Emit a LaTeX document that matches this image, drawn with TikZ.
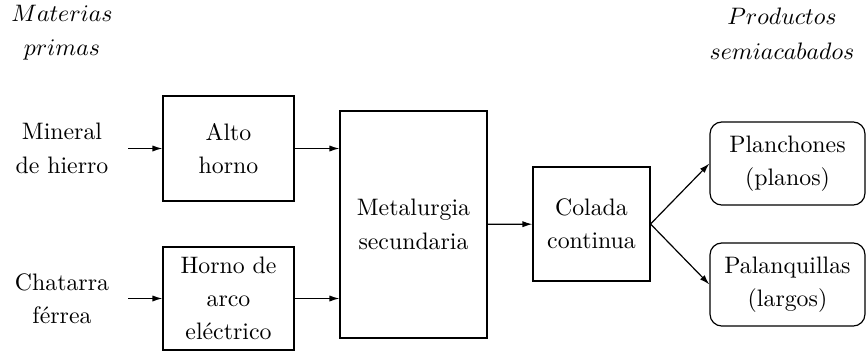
\documentclass[tikz,border=0pt]{standalone}
\usetikzlibrary{arrows.meta}
\begin{document}
\begin{tikzpicture}[x=0.42pt,y=-0.42pt,
  every node/.style={inner sep=0pt,align=center},
  proc/.style={draw,line width=0.5pt},
  prod/.style={draw,line width=0.5pt,rounded corners=5pt},
  source/.style={minimum width=55.4pt},
  flow/.style={line width=0.5pt,-{Latex[length=4.2pt,width=2.6pt]}}]
\useasboundingbox (0,0) rectangle (867,352);

% column headings
\node (mat) at (62,32.5) {$Materias$\\[2.5pt]$primas$};
\node (prodh) at (782,33.5) {$Productos$\\[2.5pt]$semiacabados$};

% raw materials
\node[source] (mineral) at (62,148.5) {Mineral\\[2pt]de hierro};
\node[source] (chatarra) at (62,298.5) {Chatarra\\[2pt]férrea};

% process stages
\node[proc,minimum width=55pt,minimum height=44.1pt] (alto) at (228.5,148.5) {Alto\\[2pt]horno};
\node[proc,minimum width=55pt,minimum height=43.3pt] (arco) at (228.5,298.5) {Horno de\\[2pt]arco\\[2pt]eléctrico};
\node[proc,minimum width=61.7pt,minimum height=95.3pt] (metal) at (413.5,224.5) {Metalurgia\\[2pt]secundaria};
\node[proc,minimum width=49.1pt,minimum height=47.9pt] (colada) at (591.5,224) {Colada\\[2pt]continua};

% semi-finished products
\node[prod,minimum width=65.1pt,minimum height=34.9pt] (plan) at (787.5,163.5) {Planchones\\[2pt](planos)};
\node[prod,minimum width=65.1pt,minimum height=34.9pt] (pal) at (787.5,284.5) {Palanquillas\\[2pt](largos)};

% material flow
\draw[flow] (mineral) -- (alto);
\draw[flow] (chatarra) -- (arco);
\draw[flow] (alto.east) -- (alto.east -| metal.west);
\draw[flow] (arco.east) -- (arco.east -| metal.west);
\draw[flow] (metal) -- (colada);
\draw[flow] (colada.east) -- (plan.west);
\draw[flow] (colada.east) -- (pal.west);
\end{tikzpicture}
\end{document}
